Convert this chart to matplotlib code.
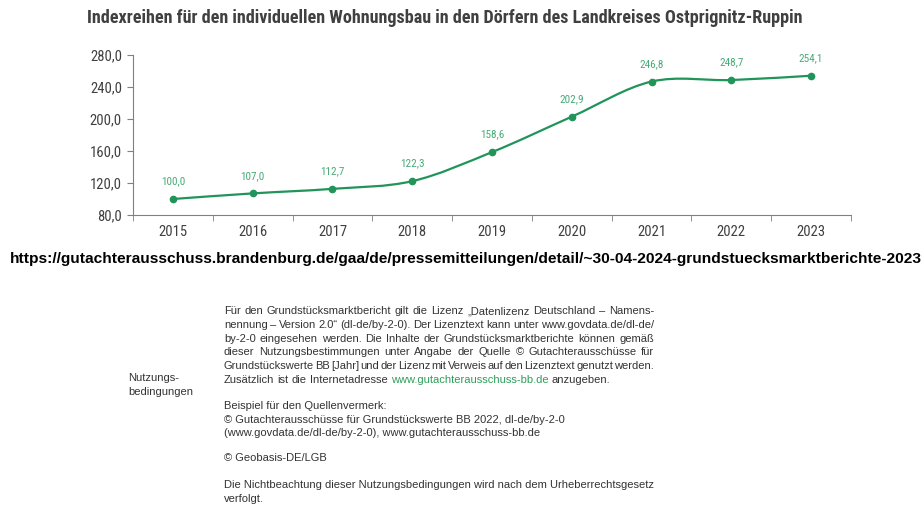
import matplotlib
matplotlib.use("Agg")
import matplotlib.pyplot as plt
from matplotlib.path import Path
from matplotlib.patches import PathPatch
from matplotlib import font_manager as fm
import numpy as np

years = ["2015", "2016", "2017", "2018", "2019", "2020", "2021", "2022", "2023"]
index_values = [100.0, 107.0, 112.7, 122.3, 158.6, 202.9, 246.8, 248.7, 254.1]
y_ticks = [80, 120, 160, 200, 240, 280]

title = "Indexreihen für den individuellen Wohnungsbau in den Dörfern des Landkreises Ostprignitz-Ruppin"
url = "https://gutachterausschuss.brandenburg.de/gaa/de/pressemitteilungen/detail/~30-04-2024-grundstuecksmarktberichte-2023"

# look for a narrow sans, the reference uses one for the chart texts
names = sorted({f.name for f in fm.fontManager.ttflist})
narrow = None
for nm in ["Liberation Sans Narrow", "Arial Narrow", "Roboto Condensed"]:
    if nm in names:
        narrow = nm
        break
if narrow is None:
    for nm in names:
        if "Narrow" in nm or "Condensed" in nm:
            narrow = nm
            break
if narrow is None:
    narrow = "Roboto"

W, H = 924, 520
fig = plt.figure(figsize=(W / 100, H / 100), dpi=100)
renderer = fig.canvas.get_renderer()

GREEN = "#21945a"
LABEL_GREEN = "#46ab76"
GREY = "#404040"

def fy(py):
    return 1 - py / H

def fx(px):
    return px / W

ax = fig.add_axes([fx(133), fy(215), fx(851) - fx(133), fy(55) - fy(215)])
x = np.arange(len(years))
ax.set_xlim(-0.5, len(years) - 0.5)
ax.set_ylim(80, 280)

# smoothed line (Excel-like bezier through the points)
pts = np.column_stack([x, index_values])
verts = [tuple(pts[0])]
codes = [Path.MOVETO]
n = len(pts)
for i in range(n - 1):
    p0 = pts[max(i - 1, 0)]
    p1 = pts[i]
    p2 = pts[i + 1]
    p3 = pts[min(i + 2, n - 1)]
    c1 = p1 + (p2 - p0) / 6
    c2 = p2 - (p3 - p1) / 6
    verts += [tuple(c1), tuple(c2), tuple(p2)]
    codes += [Path.CURVE4] * 3
ax.add_patch(PathPatch(Path(verts, codes), facecolor="none", edgecolor=GREEN, lw=1.6))
ax.plot(x, index_values, "o", color=GREEN, ms=4.5)

for xi, v in zip(x, index_values):
    ax.annotate(f"{v:.1f}".replace(".", ","), (xi, v), xytext=(0, 9), textcoords="offset points",
                ha="center", va="bottom", fontsize=8, color=LABEL_GREEN, family=narrow)

ax.set_yticks(y_ticks)
ax.set_yticklabels([f"{t:.1f}".replace(".", ",") for t in y_ticks], fontsize=10.5, family=narrow, color=GREY)
ax.set_xticks(x)
ax.set_xticklabels(years, fontsize=10.5, family=narrow, color=GREY)
ax.set_xticks(np.arange(-0.5, len(years)), minor=True)
ax.tick_params(axis="x", which="major", length=0, pad=7)
ax.tick_params(axis="x", which="minor", length=4, color="#808080", direction="out")
ax.tick_params(axis="y", length=4, color="#808080", pad=4)
for s in ["top", "right"]:
    ax.spines[s].set_visible(False)
for s in ["left", "bottom"]:
    ax.spines[s].set_color("#808080")

# title, fitted to its width in the reference
t = fig.text(fx(445), fy(18), title, ha="center", va="center", fontsize=14,
             fontweight="bold", color=GREY, family=narrow)
w = t.get_window_extent(renderer).width
t.set_fontsize(14 * 721 / w)

u = fig.text(fx(466), fy(259), url, ha="center", va="center", fontsize=13,
             fontweight="bold", color="black", family="Liberation Sans")
w = u.get_window_extent(renderer).width
u.set_fontsize(13 * 908 / w)

# licence text block
body_lines = [
    ("j", "Für den Grundstücksmarktbericht gilt die Lizenz „Datenlizenz Deutschland – Namens-"),
    ("j", "nennung – Version 2.0“ (dl-de/by-2-0). Der Lizenztext kann unter www.govdata.de/dl-de/"),
    ("j", "by-2-0 eingesehen werden. Die Inhalte der Grundstücksmarktberichte können gemäß"),
    ("j", "dieser Nutzungsbestimmungen unter Angabe der Quelle © Gutachterausschüsse für"),
    ("j", "Grundstückswerte BB [Jahr] und der Lizenz mit Verweis auf den Lizenztext genutzt werden."),
    ("l", "Zusätzlich ist die Internetadresse |www.gutachterausschuss-bb.de| anzugeben."),
]
tail_lines = [
    (406, "Beispiel für den Quellenvermerk:"),
    (420, "© Gutachterausschüsse für Grundstückswerte BB 2022, dl-de/by-2-0"),
    (433, "(www.govdata.de/dl-de/by-2-0), www.gutachterausschuss-bb.de"),
    (458, "© Geobasis-DE/LGB"),
    (485, "Die Nichtbeachtung dieser Nutzungsbedingungen wird nach dem Urheberrechtsgesetz"),
    (499, "verfolgt."),
]
BODY_FS = 8.0
BODY_COL = "#333333"
LINK_COL = "#2e9e5a"
LEFT, RIGHT = 224, 654

def word_width(s):
    tt = fig.text(0, 0, s, fontsize=BODY_FS, family="Liberation Sans")
    ww = tt.get_window_extent(renderer).width
    tt.remove()
    return ww

space_w = word_width("a a") - word_width("aa")

for k, (mode, line) in enumerate(body_lines):
    py = 311 + k * 13.8
    tokens = []
    for j, part in enumerate(line.split("|")):
        col = LINK_COL if j % 2 else BODY_COL
        for wd in part.split():
            tokens.append((wd, col))
    widths = [word_width(wd) for wd, _ in tokens]
    gap = space_w
    if mode == "j" and len(tokens) > 1:
        gap = max((RIGHT - LEFT - sum(widths)) / (len(tokens) - 1), 0.3 * space_w)
    px = LEFT
    for (wd, col), ww in zip(tokens, widths):
        fig.text(fx(px), fy(py), wd, fontsize=BODY_FS, family="Liberation Sans",
                 color=col, va="center", ha="left")
        px += ww + gap

for py, line in tail_lines:
    fig.text(fx(LEFT), fy(py), line, fontsize=BODY_FS, family="Liberation Sans",
             color=BODY_COL, va="center", ha="left")

fig.text(fx(128), fy(378), "Nutzungs-", fontsize=BODY_FS, family="Liberation Sans",
         color=BODY_COL, va="center", ha="left")
fig.text(fx(128), fy(392), "bedingungen", fontsize=BODY_FS, family="Liberation Sans",
         color=BODY_COL, va="center", ha="left")

fig.savefig("out.png", dpi=100)
